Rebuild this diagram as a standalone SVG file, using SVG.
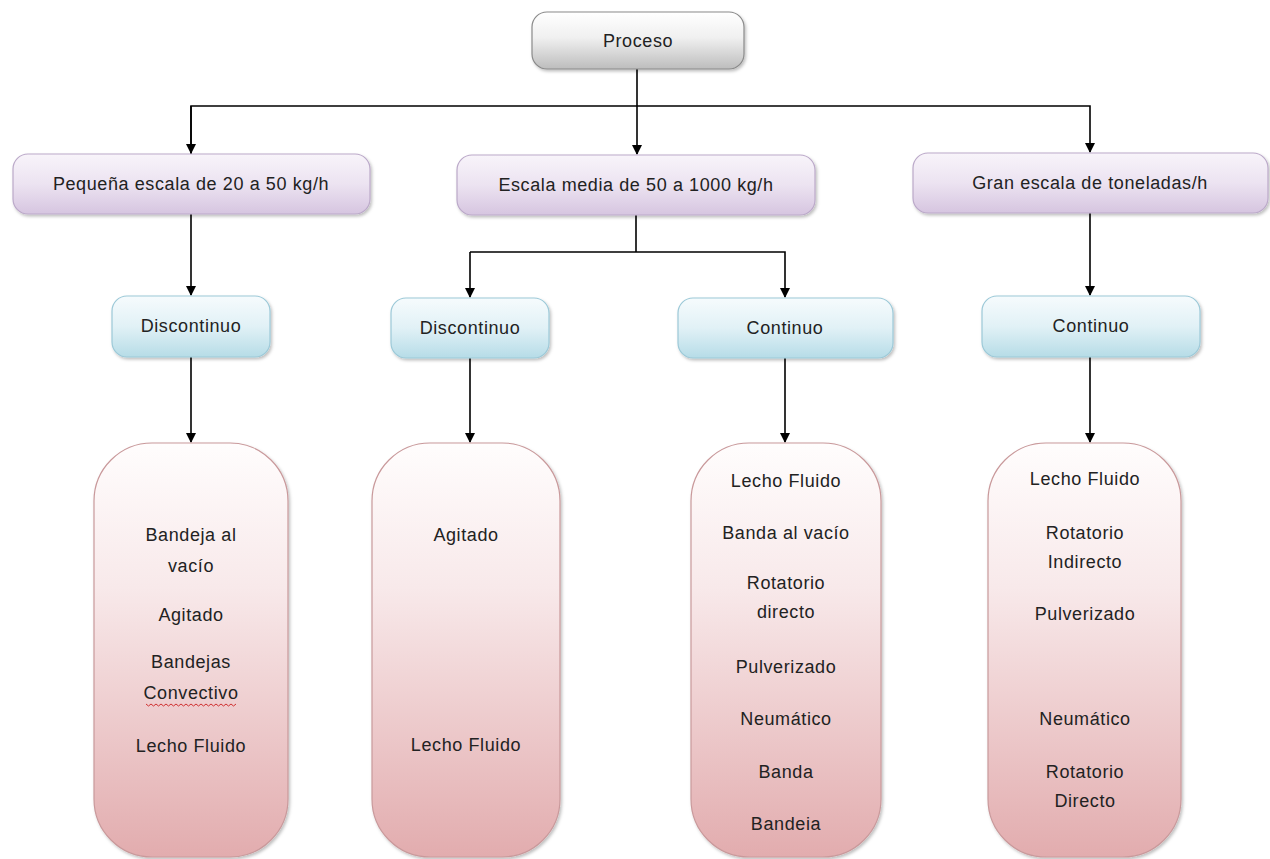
<svg xmlns="http://www.w3.org/2000/svg" width="1270" height="859" viewBox="0 0 1270 859">
<defs>
  <linearGradient id="gGray" x1="0" y1="0" x2="0" y2="1">
    <stop offset="0" stop-color="#ffffff"/>
    <stop offset="0.45" stop-color="#f0f0f0"/>
    <stop offset="1" stop-color="#bdbdbd"/>
  </linearGradient>
  <linearGradient id="gLav" x1="0" y1="0" x2="0" y2="1">
    <stop offset="0" stop-color="#f8f4fa"/>
    <stop offset="0.5" stop-color="#ece3f1"/>
    <stop offset="1" stop-color="#d6c5e0"/>
  </linearGradient>
  <linearGradient id="gBlue" x1="0" y1="0" x2="0" y2="1">
    <stop offset="0" stop-color="#f6fbfd"/>
    <stop offset="0.5" stop-color="#e1f1f6"/>
    <stop offset="1" stop-color="#b6dce7"/>
  </linearGradient>
  <linearGradient id="gPink" x1="0" y1="0" x2="0" y2="1">
    <stop offset="0" stop-color="#fffdfd"/>
    <stop offset="0.35" stop-color="#f8e9ea"/>
    <stop offset="1" stop-color="#e2acae"/>
  </linearGradient>
  <filter id="sh" x="-10%" y="-10%" width="130%" height="130%">
    <feDropShadow dx="1.5" dy="2" stdDeviation="1.5" flood-color="#000" flood-opacity="0.25"/>
  </filter>
  <marker id="ah" markerWidth="10" markerHeight="10" refX="9" refY="5" orient="auto" markerUnits="userSpaceOnUse">
    <path d="M0,0 L10,5 L0,10 z" fill="#000"/>
  </marker>
  <style>
    .lbl { font-family: "Liberation Sans", Arial, sans-serif; font-size: 18px; fill: #222; text-anchor: middle; letter-spacing: 0.6px; }
    .con { fill: none; stroke: #000; stroke-width: 1.6; }
    .gray { fill: url(#gGray); stroke: #8a8a8a; stroke-width: 1.2; filter: url(#sh); }
    .lav { fill: url(#gLav); stroke: #bba9c9; stroke-width: 1.2; filter: url(#sh); }
    .blue { fill: url(#gBlue); stroke: #9cc9d8; stroke-width: 1.2; filter: url(#sh); }
    .pink { fill: url(#gPink); stroke: #c9999b; stroke-width: 1.2; filter: url(#sh); }
    .squig { fill: none; stroke: #d03030; stroke-width: 1; }
  </style>
</defs>
<rect width="1270" height="859" fill="#ffffff"/>

<g id="connectors">
  <path class="con" d="M637,69 V154" marker-end="url(#ah)"/>
  <path class="con" d="M191,154 V106 H1090 V152" marker-end="url(#ah)"/>
  <path class="con" d="M191,106 V153" marker-end="url(#ah)"/>
  <path class="con" d="M191,214 V295" marker-end="url(#ah)"/>
  <path class="con" d="M636,215 V252"/>
  <path class="con" d="M470,252 H785 V297" marker-end="url(#ah)"/>
  <path class="con" d="M470,252 V297" marker-end="url(#ah)"/>
  <path class="con" d="M1090,213 V295" marker-end="url(#ah)"/>
  <path class="con" d="M191,357 V442" marker-end="url(#ah)"/>
  <path class="con" d="M470,358 V442" marker-end="url(#ah)"/>
  <path class="con" d="M785,358 V442" marker-end="url(#ah)"/>
  <path class="con" d="M1090,357 V442" marker-end="url(#ah)"/>
</g>

<g id="proceso">
  <rect class="gray" x="532" y="12" width="212" height="57" rx="15"/>
  <text class="lbl" x="638" y="47">Proceso</text>
</g>

<g id="pequena">
  <rect class="lav" x="13" y="154" width="357" height="60" rx="15"/>
  <text class="lbl" x="191" y="190">Pequeña escala de 20 a 50 kg/h</text>
</g>
<g id="media">
  <rect class="lav" x="457" y="155" width="358" height="60" rx="15"/>
  <text class="lbl" x="636" y="191">Escala media de 50 a 1000 kg/h</text>
</g>
<g id="gran">
  <rect class="lav" x="913" y="153" width="355" height="60" rx="15"/>
  <text class="lbl" x="1090" y="189">Gran escala de toneladas/h</text>
</g>

<g id="disc1">
  <rect class="blue" x="112" y="296" width="158" height="61" rx="15"/>
  <text class="lbl" x="191" y="332">Discontinuo</text>
</g>
<g id="disc2">
  <rect class="blue" x="391" y="298" width="158" height="60" rx="15"/>
  <text class="lbl" x="470" y="334">Discontinuo</text>
</g>
<g id="cont1">
  <rect class="blue" x="678" y="298" width="215" height="60" rx="15"/>
  <text class="lbl" x="785" y="334">Continuo</text>
</g>
<g id="cont2">
  <rect class="blue" x="982" y="296" width="218" height="61" rx="15"/>
  <text class="lbl" x="1091" y="332">Continuo</text>
</g>

<g id="lista1">
  <rect class="pink" x="94" y="443" width="194" height="414" rx="58"/>
  <text class="lbl" x="191" y="541">Bandeja al</text>
  <text class="lbl" x="191" y="572">vacío</text>
  <text class="lbl" x="191" y="621">Agitado</text>
  <text class="lbl" x="191" y="668">Bandejas</text>
  <text class="lbl" x="191" y="699">Convectivo</text>
  <path class="squig" d="M146,704 l2.5,2 l2.5,-2 l2.5,2 l2.5,-2 l2.5,2 l2.5,-2 l2.5,2 l2.5,-2 l2.5,2 l2.5,-2 l2.5,2 l2.5,-2 l2.5,2 l2.5,-2 l2.5,2 l2.5,-2 l2.5,2 l2.5,-2 l2.5,2 l2.5,-2 l2.5,2 l2.5,-2 l2.5,2 l2.5,-2 l2.5,2 l2.5,-2 l2.5,2 l2.5,-2 l2.5,2 l2.5,-2 l2.5,2 l2.5,-2 l2.5,2 l2.5,-2 l2.5,2 l2.5,-2"/>
  <text class="lbl" x="191" y="752">Lecho Fluido</text>
</g>

<g id="lista2">
  <rect class="pink" x="372" y="443" width="188" height="414" rx="58"/>
  <text class="lbl" x="466" y="541">Agitado</text>
  <text class="lbl" x="466" y="751">Lecho Fluido</text>
</g>

<g id="lista3">
  <rect class="pink" x="691" y="443" width="190" height="414" rx="58"/>
  <text class="lbl" x="786" y="487">Lecho Fluido</text>
  <text class="lbl" x="786" y="539">Banda al vacío</text>
  <text class="lbl" x="786" y="589">Rotatorio</text>
  <text class="lbl" x="786" y="618">directo</text>
  <text class="lbl" x="786" y="673">Pulverizado</text>
  <text class="lbl" x="786" y="725">Neumático</text>
  <text class="lbl" x="786" y="778">Banda</text>
  <text class="lbl" x="786" y="830">Bandeia</text>
</g>

<g id="lista4">
  <rect class="pink" x="988" y="443" width="193" height="414" rx="58"/>
  <text class="lbl" x="1085" y="485">Lecho Fluido</text>
  <text class="lbl" x="1085" y="539">Rotatorio</text>
  <text class="lbl" x="1085" y="568">Indirecto</text>
  <text class="lbl" x="1085" y="620">Pulverizado</text>
  <text class="lbl" x="1085" y="725">Neumático</text>
  <text class="lbl" x="1085" y="778">Rotatorio</text>
  <text class="lbl" x="1085" y="807">Directo</text>
</g>
</svg>
